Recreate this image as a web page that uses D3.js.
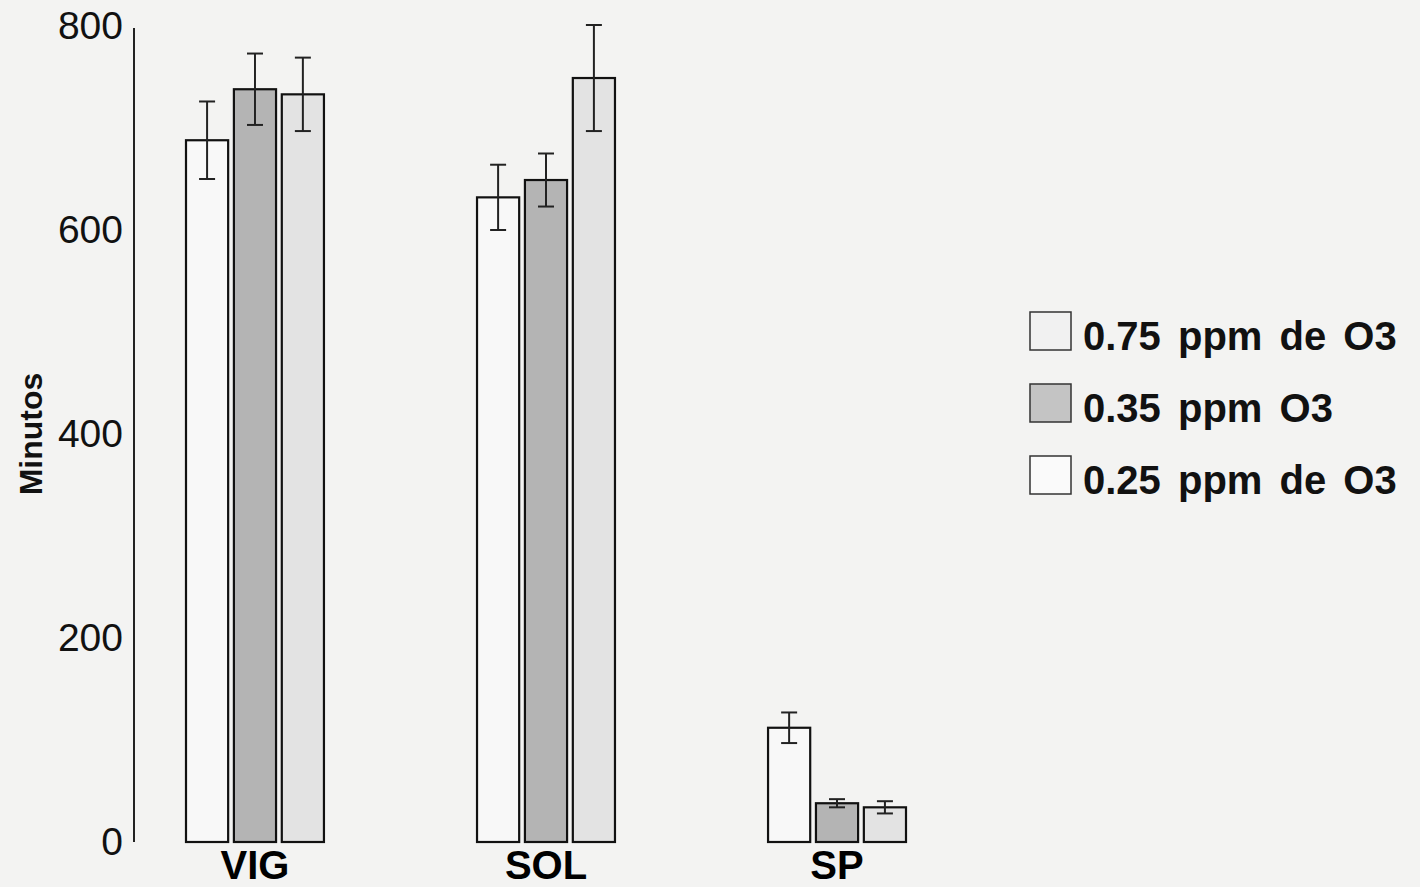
<!DOCTYPE html>
<html>
<head>
<meta charset="utf-8">
<script src="https://cdn.jsdelivr.net/npm/d3@7"></script>
<style>
  body { margin: 0; background: #f3f3f2; }
  svg { display: block; }
</style>
</head>
<body>
<div id="chart"></div>
<script>
// data
const categories = ["VIG", "SOL", "SP"];
const series = ["0.75 ppm de O3", "0.35 ppm O3", "0.25 ppm de O3"];
const means = [
  [688, 738, 733],   // VIG
  [632, 649, 749],   // SOL
  [112, 38, 34]      // SP
];
const errors = [
  [38, 35, 36],
  [32, 26, 52],
  [15, 4, 6]
];
const yTicks = [0, 200, 400, 600, 800];

const width = 1420, height = 887;

const barFill = ["#f8f8f8", "#b4b4b4", "#e3e3e3"];
const legendFill = ["#f1f1f1", "#c4c4c4", "#fafafa"];

const svg = d3.select("#chart").append("svg")
  .attr("width", width)
  .attr("height", height);

svg.append("rect")
  .attr("width", width).attr("height", height)
  .attr("fill", "#f3f3f2");

const y = d3.scaleLinear().domain([0, 800]).range([842, 26]);

const x0 = d3.scaleBand()
  .domain(categories)
  .range([186, 906])
  .paddingInner(0.526)
  .paddingOuter(0);

const x1 = d3.scaleBand()
  .domain(d3.range(series.length))
  .range([0, x0.bandwidth()])
  .paddingInner(0.12);

// y axis: plain line, labels only
const yAxis = d3.axisLeft(y).tickValues(yTicks).tickSize(0).tickPadding(11);
const gy = svg.append("g")
  .attr("transform", "translate(134,0)")
  .call(yAxis);
gy.select(".domain")
  .attr("d", `M0,${y(800) + 2}V${y(0)}`)
  .attr("stroke", "#222")
  .attr("stroke-width", 2);
gy.selectAll("text")
  .attr("font-family", "Liberation Sans, Arial, sans-serif")
  .attr("font-size", 39)
  .attr("fill", "#111");

svg.append("text")
  .attr("transform", "translate(42,434) rotate(-90)")
  .attr("text-anchor", "middle")
  .attr("font-family", "Liberation Sans, Arial, sans-serif")
  .attr("font-weight", "bold")
  .attr("font-size", 32)
  .attr("fill", "#111")
  .text("Minutos");

// x axis: category labels only
const xAxis = d3.axisBottom(x0).tickSize(0).tickPadding(9);
const gx = svg.append("g")
  .attr("transform", `translate(0,${y(0)})`)
  .call(xAxis);
gx.select(".domain").remove();
gx.selectAll("text")
  .attr("font-family", "Liberation Sans, Arial, sans-serif")
  .attr("font-weight", "bold")
  .attr("font-size", 40)
  .attr("fill", "#000");

// bars
const groups = svg.append("g").selectAll("g")
  .data(categories)
  .join("g")
  .attr("transform", d => `translate(${x0(d)},0)`);

const cells = groups.selectAll("g")
  .data((d, ci) => means[ci].map((v, si) => ({ v, e: errors[ci][si], si })))
  .join("g");

cells.append("rect")
  .attr("x", d => x1(d.si))
  .attr("y", d => y(d.v))
  .attr("width", x1.bandwidth())
  .attr("height", d => y(0) - y(d.v))
  .attr("fill", d => barFill[d.si])
  .attr("stroke", "#111")
  .attr("stroke-width", 2.2);

// error bars
const cap = 8;
cells.append("line")
  .attr("x1", d => x1(d.si) + x1.bandwidth() / 2)
  .attr("x2", d => x1(d.si) + x1.bandwidth() / 2)
  .attr("y1", d => y(d.v + d.e))
  .attr("y2", d => y(d.v - d.e))
  .attr("stroke", "#222").attr("stroke-width", 2);
cells.append("line")
  .attr("x1", d => x1(d.si) + x1.bandwidth() / 2 - cap)
  .attr("x2", d => x1(d.si) + x1.bandwidth() / 2 + cap)
  .attr("y1", d => y(d.v + d.e))
  .attr("y2", d => y(d.v + d.e))
  .attr("stroke", "#222").attr("stroke-width", 2);
cells.append("line")
  .attr("x1", d => x1(d.si) + x1.bandwidth() / 2 - cap)
  .attr("x2", d => x1(d.si) + x1.bandwidth() / 2 + cap)
  .attr("y1", d => y(d.v - d.e))
  .attr("y2", d => y(d.v - d.e))
  .attr("stroke", "#222").attr("stroke-width", 2);

// legend
const legend = svg.append("g")
  .attr("transform", "translate(1030,312)")
  .selectAll("g")
  .data(series)
  .join("g")
  .attr("transform", (d, i) => `translate(0,${i * 72})`);

legend.append("rect")
  .attr("width", 41)
  .attr("height", 38)
  .attr("fill", (d, i) => legendFill[i])
  .attr("stroke", "#333")
  .attr("stroke-width", 1.5);

legend.append("text")
  .attr("x", 53)
  .attr("y", 38)
  .attr("font-family", "Liberation Sans, Arial, sans-serif")
  .attr("font-weight", "bold")
  .attr("font-size", 40)
  .attr("word-spacing", 6)
  .attr("fill", "#111")
  .text(d => d);
</script>
</body>
</html>
